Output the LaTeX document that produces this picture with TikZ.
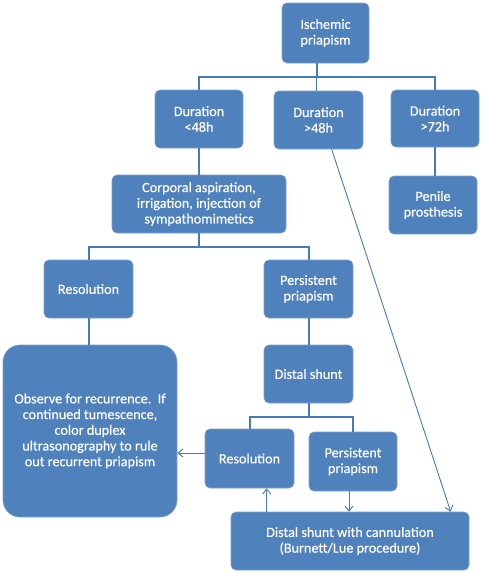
\documentclass[tikz,border=0pt]{standalone}
\usepackage{fontspec}
\setmainfont{Carlito}
\newfontfamily\boxfont{Carlito}[FakeBold=0.35]
\usetikzlibrary{arrows.meta,calc}
\definecolor{boxfill}{RGB}{79,129,189}
\definecolor{boxedge}{RGB}{120,158,208}
\definecolor{linec}{RGB}{70,122,184}
\tikzset{
  box/.style={draw=boxedge, line width=0.6pt, fill=boxfill, rounded corners=5pt,
    text=white, align=center, inner sep=2pt,
    font=\boxfont\fontsize{14.2}{15.7}\selectfont},
  tree/.style={draw=linec, line width=2pt},
  thinline/.style={draw=linec, line width=0.9pt},
  arr/.style={draw=linec, line width=0.9pt, -{Straight Barb[length=5pt,width=8pt]}},
}
\begin{document}
\begin{tikzpicture}[x=1pt,y=-1pt]
\useasboundingbox (0,0) rectangle (482,573);
\node[box, minimum width=87pt, minimum height=60pt] (isch) at (325.5,33) {Ischemic\\priapism};
\node[box, minimum width=88pt, minimum height=58pt] (d48l) at (199,119) {Duration\\<48h};
\node[box, minimum width=89pt, minimum height=58pt] (d48g) at (318.5,120) {Duration\\>48h};
\node[box, minimum width=88pt, minimum height=57pt] (d72) at (435,118.5) {Duration\\>72h};
\node[box, minimum width=174pt, minimum height=58pt] (corp) at (199,204) {Corporal aspiration,\\irrigation, injection of\\sympathomimetics};
\node[box, minimum width=88pt, minimum height=58pt] (penile) at (433,205) {Penile\\prosthesis};
\node[box, minimum width=89pt, minimum height=58pt] (res1) at (88.5,289) {Resolution};
\node[box, minimum width=89pt, minimum height=58pt] (pers1) at (308.5,289) {Persistent\\priapism};
\node[box, rounded corners=17pt, minimum width=174pt, minimum height=172pt] (obs) at (90,431) {Observe for recurrence.\ \ If\\continued tumescence,\\color duplex\\ultrasonography\ to rule\\out recurrent\ priapism};
\node[box, minimum width=89pt, minimum height=58pt] (dist) at (308.5,374) {Distal shunt};
\node[box, minimum width=89pt, minimum height=59pt] (res2) at (249.5,458.5) {Resolution};
\node[box, minimum width=88pt, minimum height=59pt] (pers2) at (353,461.5) {Persistent\\priapism};
\node[box, minimum width=238pt, minimum height=58pt] (cann) at (350,541) {Distal shunt with cannulation\\(Burnett/Lue procedure)};
% tree connectors
\coordinate (j1) at (316.7,77);
\draw[tree] (isch.south -| j1) -- (j1);
\draw[tree] (j1) -| (d48l.north);
\draw[tree] (j1) -| (d72.north);
\draw[thinline] (j1) -- (j1 |- d48g.north);
\draw[tree] (d48l.south) -- (d48l.south |- corp.north);
\draw[tree] (d72.south) -- (d72.south |- penile.north);
\coordinate (j2) at (199,247);
\draw[tree] (corp.south) -- (j2);
\draw[tree] (j2) -| (res1.north);
\draw[tree] (j2) -| (pers1.north);
\draw[tree] (res1.south) -- (res1.south |- obs.north);
\draw[tree] (pers1.south) -- (pers1.south |- dist.north);
\coordinate (j3) at (308.7,417);
\draw[tree] (dist.south -| j3) -- (j3);
\draw[tree] (j3) -| (res2.north);
\draw[tree] (j3) -| (pers2.north);
% arrows
\coordinate (a1) at (205,453);
\draw[arr] (res2.west |- a1) -- (obs.east |- a1);
\coordinate (a2) at (266.7,0);
\draw[arr] (cann.north -| a2) -- (res2.south -| a2);
\coordinate (a3) at (349,0);
\draw[arr] (pers2.south -| a3) -- (cann.north -| a3);
\coordinate (a4) at (331.7,0);
\coordinate (a5) at (450.7,0);
\draw[arr] (d48g.south -| a4) -- (cann.north -| a5);
\end{tikzpicture}
\end{document}
